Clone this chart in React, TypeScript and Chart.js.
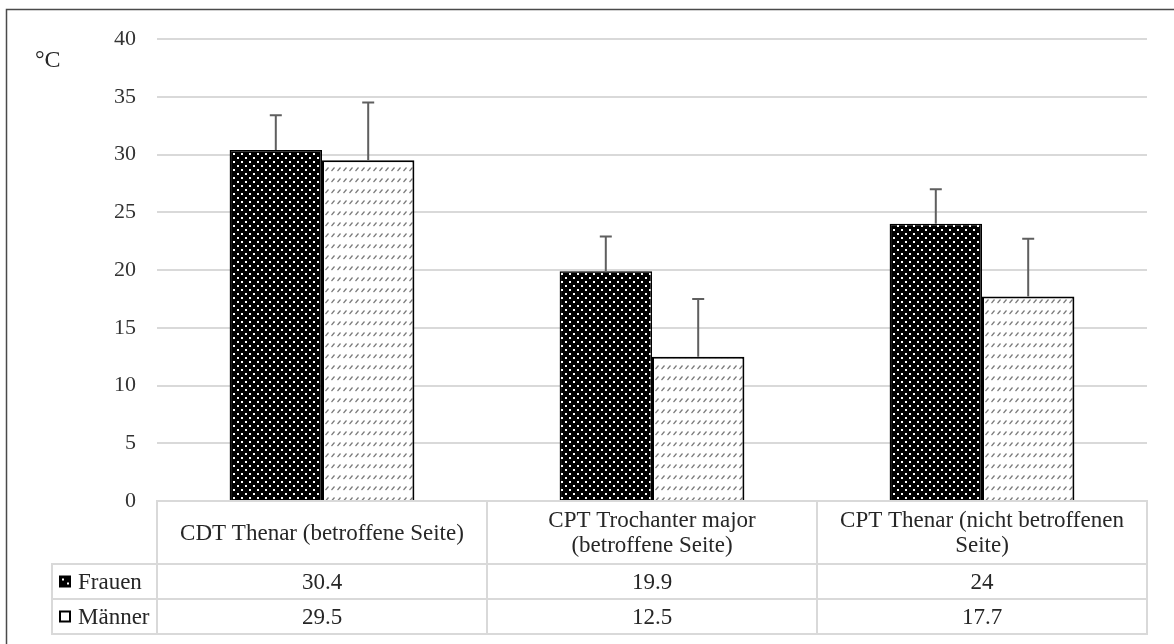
import React, { useEffect, useRef } from 'react';
import { Chart, registerables } from 'chart.js';
Chart.register(...registerables);

// ---- data ----
const categories: string[][] = [
  ['CDT Thenar (betroffene Seite)'],
  ['CPT Trochanter major', '(betroffene Seite)'],
  ['CPT Thenar (nicht betroffenen', 'Seite)'],
];
const seriesNames = ['Frauen', 'Männer'];
const frauenValues = [30.4, 19.9, 24];
const maennerValues = [29.5, 12.5, 17.7];
const frauenErrors = [3.0, 3.0, 3.0];
const maennerErrors = [5.0, 5.0, 5.0];
const frauenTable = ['30.4', '19.9', '24'];
const maennerTable = ['29.5', '12.5', '17.7'];
const yMin = 0;
const yMax = 40;
const yStep = 5;
const unitLabel = '°C';

const FONT = '"Liberation Serif", "Times New Roman", serif';

function makeDotPattern(): CanvasPattern | string {
  const c = document.createElement('canvas');
  c.width = 8;
  c.height = 8;
  const g = c.getContext('2d');
  if (!g) return '#000';
  g.fillStyle = '#000';
  g.fillRect(0, 0, 8, 8);
  g.fillStyle = '#ffffff';
  g.fillRect(1, 1, 2, 2);
  g.fillRect(5, 5, 2, 2);
  return g.createPattern(c, 'repeat') || '#000';
}

function makeHatchPattern(): CanvasPattern | string {
  const c = document.createElement('canvas');
  c.width = 6;
  c.height = 11;
  const g = c.getContext('2d');
  if (!g) return '#fff';
  g.fillStyle = '#ffffff';
  g.fillRect(0, 0, 6, 11);
  g.strokeStyle = '#7a7a7a';
  g.lineWidth = 1.2;
  g.beginPath();
  g.moveTo(1.5, 6);
  g.lineTo(4.5, 2.5);
  g.stroke();
  return g.createPattern(c, 'repeat') || '#fff';
}

const errorBarPlugin = {
  id: 'errorBars',
  afterDatasetsDraw(chart: any) {
    const ctx = chart.ctx;
    const yScale = chart.scales.y;
    const errs = [frauenErrors, maennerErrors];
    ctx.save();
    ctx.strokeStyle = '#5f5f5f';
    ctx.lineWidth = 2;
    chart.data.datasets.forEach((ds: any, di: number) => {
      const meta = chart.getDatasetMeta(di);
      meta.data.forEach((bar: any, i: number) => {
        const v = ds.data[i];
        const top = yScale.getPixelForValue(v + errs[di][i]);
        const y0 = yScale.getPixelForValue(v);
        const x = bar.x;
        ctx.beginPath();
        ctx.moveTo(x, y0);
        ctx.lineTo(x, top);
        ctx.moveTo(x - 6, top);
        ctx.lineTo(x + 6, top);
        ctx.stroke();
      });
    });
    ctx.restore();
  },
};

const tablePlugin = {
  id: 'dataTable',
  afterDraw(chart: any) {
    const ctx = chart.ctx;
    const ca = chart.chartArea;
    const n = categories.length;
    const colW = (ca.right - ca.left) / n;
    const T = ca.bottom;
    const hdrB = T + 63;
    const r1B = hdrB + 35;
    const r2B = r1B + 35;
    const legL = ca.left - 105;
    const line = (x1: number, y1: number, x2: number, y2: number) => {
      ctx.beginPath();
      ctx.moveTo(x1, y1);
      ctx.lineTo(x2, y2);
      ctx.stroke();
    };
    ctx.save();
    ctx.strokeStyle = '#d9d9d9';
    ctx.lineWidth = 2;
    line(ca.left - 1, T, ca.right + 1, T);
    line(legL - 1, hdrB, ca.right + 1, hdrB);
    line(legL - 1, r1B, ca.right + 1, r1B);
    line(legL - 1, r2B, ca.right + 1, r2B);
    line(legL, hdrB, legL, r2B);
    for (let i = 0; i <= n; i++) {
      const x = ca.left + i * colW;
      line(x, T, x, r2B);
    }

    ctx.fillStyle = '#262626';
    ctx.font = '23px ' + FONT;
    ctx.textAlign = 'center';
    ctx.textBaseline = 'middle';
    const hdrMid = (T + hdrB) / 2 + 1;
    categories.forEach((lines, i) => {
      const cx = ca.left + (i + 0.5) * colW;
      const lh = 25;
      const start = hdrMid - ((lines.length - 1) * lh) / 2;
      lines.forEach((t, k) => ctx.fillText(t, cx, start + k * lh));
      ctx.fillText(frauenTable[i], cx, (hdrB + r1B) / 2 + 1);
      ctx.fillText(maennerTable[i], cx, (r1B + r2B) / 2 + 1);
    });

    // legend keys
    ctx.textAlign = 'left';
    const rows = [(hdrB + r1B) / 2, (r1B + r2B) / 2];
    const k1y = rows[0] - 6;
    ctx.fillStyle = '#000';
    ctx.fillRect(legL + 7, k1y, 12, 12);
    ctx.fillStyle = '#fff';
    ctx.fillRect(legL + 10, k1y + 3, 2, 2);
    ctx.fillRect(legL + 15, k1y + 7, 2, 2);
    const k2y = rows[1] - 6;
    ctx.fillStyle = '#fff';
    ctx.fillRect(legL + 7, k2y, 12, 12);
    ctx.strokeStyle = '#000';
    ctx.lineWidth = 2;
    ctx.strokeRect(legL + 8, k2y + 1, 10, 10);
    ctx.fillStyle = '#262626';
    ctx.fillText(seriesNames[0], legL + 26, rows[0] + 1);
    ctx.fillText(seriesNames[1], legL + 26, rows[1] + 1);

    // unit label
    ctx.font = '24px ' + FONT;
    ctx.fillStyle = '#262626';
    ctx.textAlign = 'left';
    ctx.fillText(unitLabel, 35, 61);

    // outer frame
    ctx.strokeStyle = '#4a4a4a';
    ctx.lineWidth = 1.5;
    ctx.strokeRect(6.5, 9.5, chart.width + 20, chart.height + 20);
    ctx.restore();
  },
};

export default function App() {
  const ref = useRef<HTMLCanvasElement | null>(null);
  useEffect(() => {
    document.body.style.margin = '0';
    if (!ref.current) return;
    const dots = makeDotPattern();
    const hatch = makeHatchPattern();
    const chart = new Chart(ref.current, {
      type: 'bar',
      data: {
        labels: categories.map((c) => c.join(' ')),
        datasets: [
          {
            label: seriesNames[0],
            data: frauenValues,
            backgroundColor: dots as any,
            borderColor: '#000',
            borderWidth: 1.5,
            categoryPercentage: 0.56,
            barPercentage: 1.0,
          },
          {
            label: seriesNames[1],
            data: maennerValues,
            backgroundColor: hatch as any,
            borderColor: '#000',
            borderWidth: 2,
            categoryPercentage: 0.56,
            barPercentage: 1.0,
          },
        ],
      },
      options: {
        responsive: false,
        animation: false,
        devicePixelRatio: 1,
        layout: { padding: { top: 39, bottom: 143, left: 0, right: 27 } },
        plugins: {
          legend: { display: false },
          tooltip: { enabled: false },
          title: { display: false },
        },
        scales: {
          x: { display: false },
          y: {
            min: yMin,
            max: yMax,
            ticks: {
              stepSize: yStep,
              color: '#333',
              padding: 21,
              font: { family: FONT, size: 22 },
            },
            grid: { color: '#d9d9d9', lineWidth: 2, drawTicks: false },
            border: { display: false },
            afterFit(scale: any) {
              scale.width = 157;
            },
          },
        },
      },
      plugins: [errorBarPlugin, tablePlugin],
    });
    return () => chart.destroy();
  }, []);
  return (
    <div style={{ width: 1174, height: 644, background: '#fff' }}>
      <canvas ref={ref} width={1174} height={644} style={{ display: 'block' }} />
    </div>
  );
}
